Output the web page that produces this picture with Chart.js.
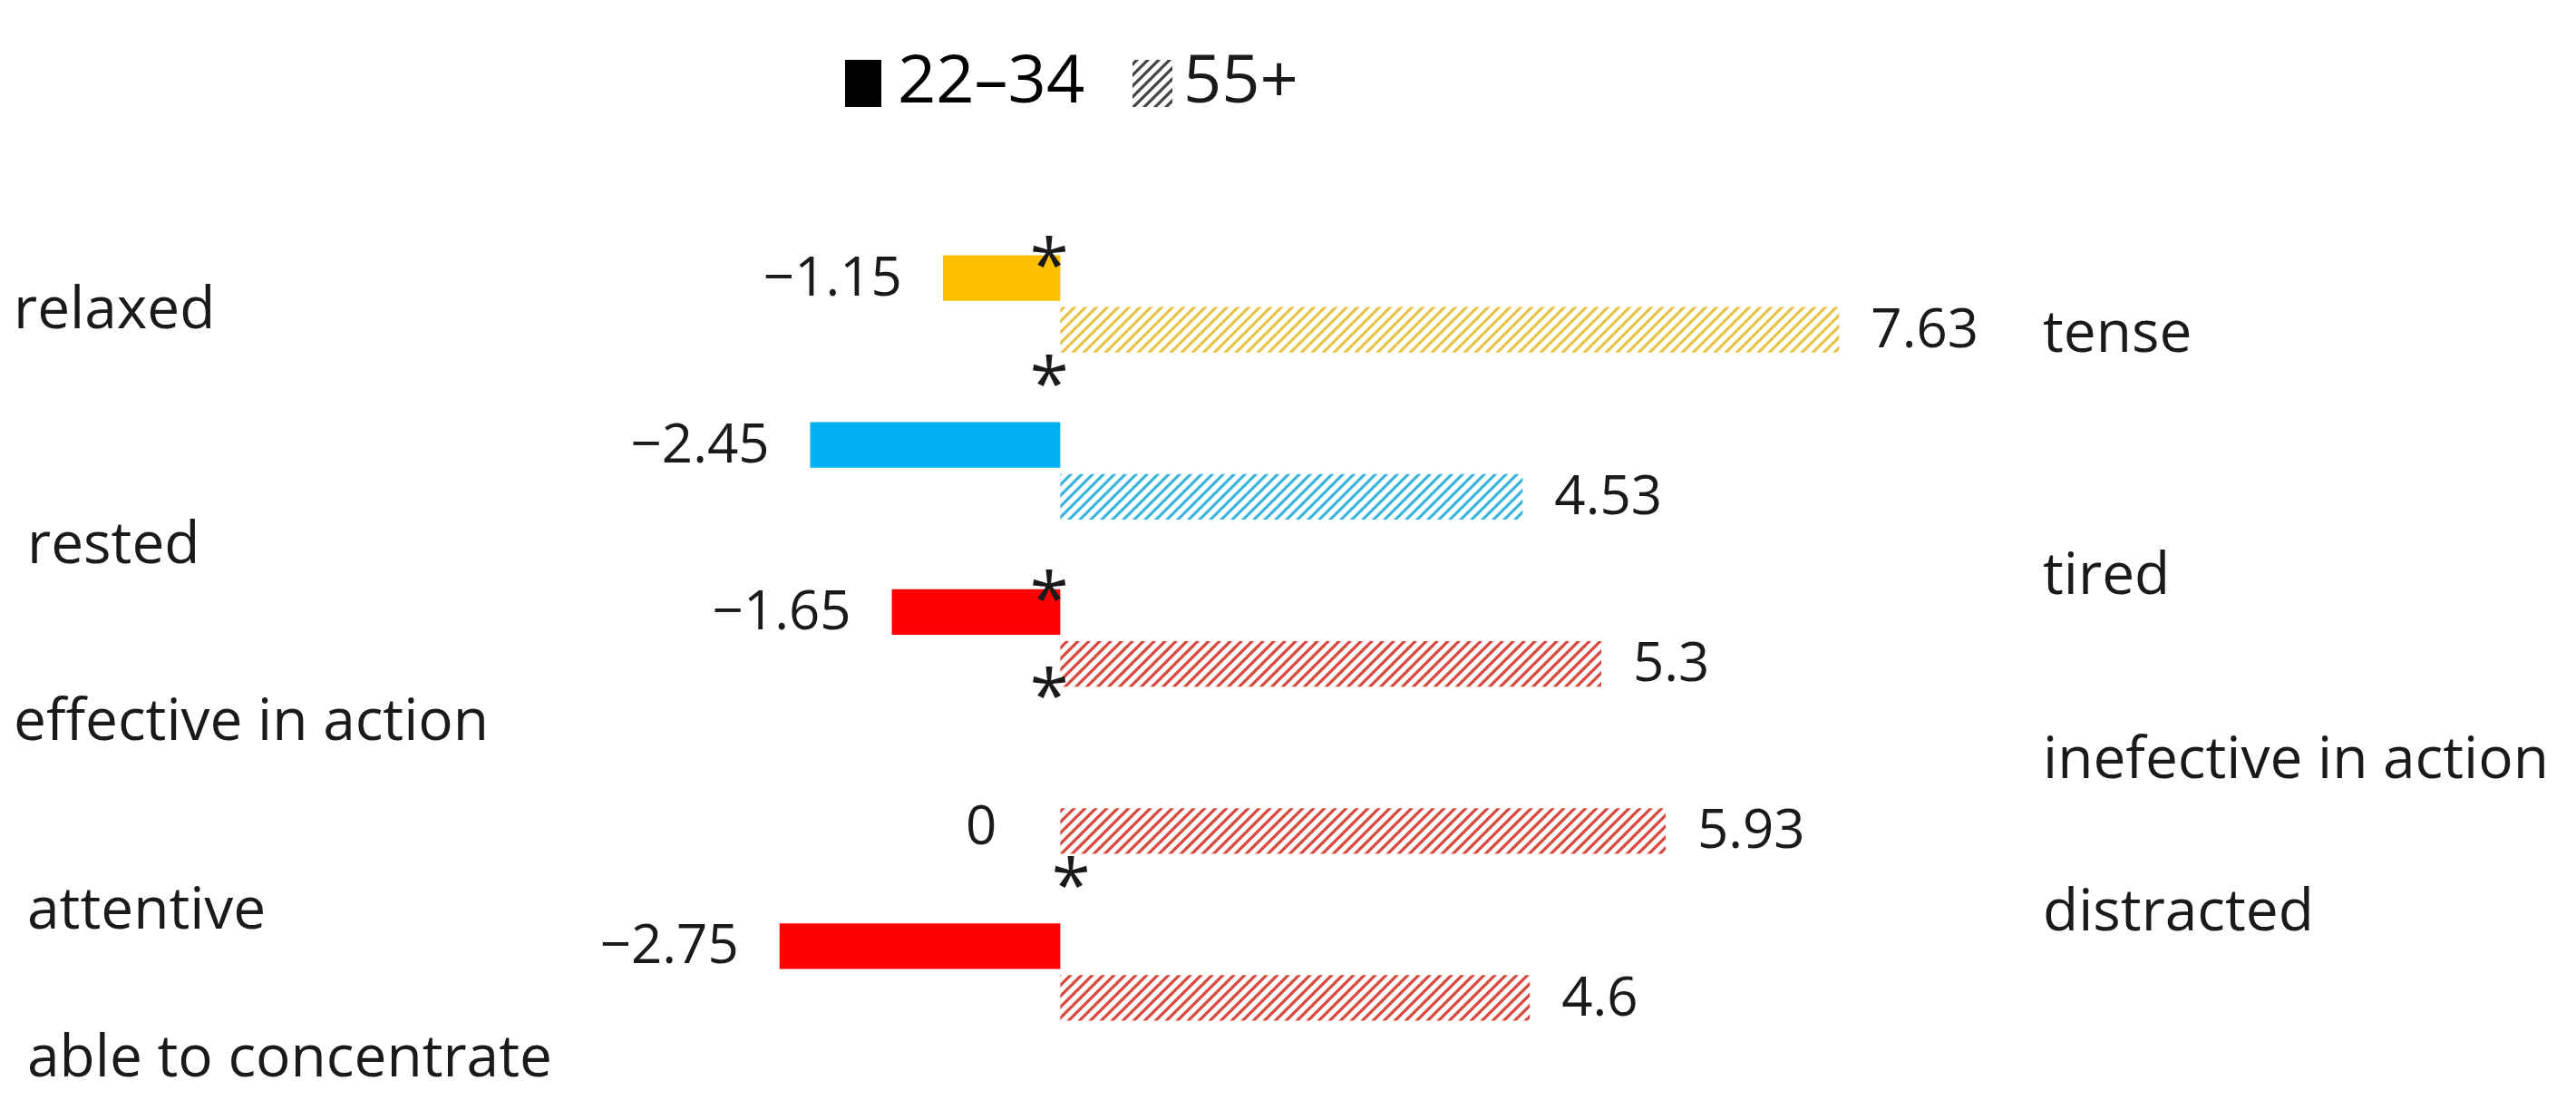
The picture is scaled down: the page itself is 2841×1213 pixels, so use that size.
<!DOCTYPE html>
<html><head><meta charset="utf-8">
<script src="https://cdn.jsdelivr.net/npm/chart.js@4/dist/chart.umd.min.js"></script>
<style>html,body{margin:0;padding:0;background:#fff;}#wrap{width:2841px;height:1213px;position:relative;}</style>
</head><body><div id="wrap"><canvas id="c" width="2841" height="1213"></canvas></div>
<script>
const categories = ["relaxed / tense","rested / tired","effective / inefective","attentive / distracted","concentrate"];
const young = [-1.15, -2.45, -1.65, 0, -2.75];
const old = [7.63, 4.53, 5.3, 5.93, 4.6];
const solidColors = ["#FFC000","#00B0F0","#FF0000","#FF0000","#FF0000"];
const hatchColors = ["#E8C34A","#3BB4DE","#D9473F","#D9473F","#D9473F"];
const seriesNames = ["22–34","55+"];
const leftLabels = ["relaxed","rested","effective in action","attentive","able to concentrate"];
const rightLabels = ["tense","tired","inefective in action","distracted"];
// significance marks: [datasetIndex, categoryIndex, side]
const stars = [[0,0,"top"],[1,0,"bottom"],[0,2,"top"],[1,2,"low"],[1,3,"bottom"]];

const leftPos = [[15,344],[30,603],[15,798],[30,1006],[30,1169]];
const rightPos = [[2253,370],[2253,637],[2253,840],[2253,1008]];
const FONT = '"Open Sans", sans-serif';

function hatch(color){
  const s=12, c=document.createElement('canvas'); c.width=s; c.height=s;
  const g=c.getContext('2d'); g.fillStyle='#fff'; g.fillRect(0,0,s,s);
  g.strokeStyle=color; g.lineWidth=3.2;
  g.beginPath();
  g.moveTo(-2,s+2); g.lineTo(s+2,-2);
  g.moveTo(-2+s,s+2); g.lineTo(s+2+s,-2);
  g.moveTo(-2-s,s+2); g.lineTo(s+2-s,-2);
  g.stroke();
  return document.getElementById('c').getContext('2d').createPattern(c,'repeat');
}

const textPlugin = {
  id:'texts',
  afterDraw(chart){
    const ctx=chart.ctx; ctx.save();
    ctx.fillStyle='#1a1a1a'; ctx.textBaseline='middle';
    ctx.font='64px '+FONT; ctx.textAlign='left';
    leftLabels.forEach((t,i)=>ctx.fillText(t,leftPos[i][0],leftPos[i][1]));
    rightLabels.forEach((t,i)=>ctx.fillText(t,rightPos[i][0],rightPos[i][1]));
    // value labels
    ctx.font='60px '+FONT;
    chart.data.datasets.forEach((ds,di)=>{
      chart.getDatasetMeta(di).data.forEach((bar,i)=>{
        const v=ds.data[i];
        const s=(v<0?'−':'')+Math.abs(v);
        if(v>0){ctx.textAlign='left'; ctx.fillText(s,bar.x+35,bar.y+2);}
        else if(v<0){ctx.textAlign='right'; ctx.fillText(s,bar.x-45,bar.y+2);}
        else {ctx.textAlign='right'; ctx.fillText(s,bar.x-70,bar.y+55);}
      });
    });
    // stars
    ctx.font='78px '+FONT; ctx.textAlign='center';
    const x0=chart.scales.x.getPixelForValue(0);
    stars.forEach(([di,i,side])=>{
      const bar=chart.getDatasetMeta(di).data[i];
      const h=bar.height;
      let y, x=x0-12;
      if(side==='top') y=bar.y-h/2-2;
      else if(side==='low') y=bar.y+h/2-2;
      else {y=bar.y+h/2+22; if(i===3) x=x0+12;}
      ctx.fillText('*',x,y+18);
    });
    // legend
    ctx.fillStyle='#000'; ctx.fillRect(932,66,40,52);
    ctx.font='74px '+FONT; ctx.textAlign='left';
    ctx.fillText(seriesNames[0],990,92);
    ctx.fillStyle=hatch('#444'); ctx.fillRect(1249,66,44,52);
    ctx.fillStyle='#1a1a1a'; ctx.fillText(seriesNames[1],1305,92);
    ctx.restore();
  }
};

new Chart(document.getElementById('c'),{
  type:'bar',
  data:{labels:categories,datasets:[
    {label:seriesNames[0],data:young,backgroundColor:solidColors,categoryPercentage:0.62,barPercentage:0.88},
    {label:seriesNames[1],data:old,backgroundColor:hatchColors.map(hatch),categoryPercentage:0.62,barPercentage:0.88}
  ]},
  options:{
    indexAxis:'y',responsive:false,animation:false,
    layout:{padding:{left:719,right:771,top:243,bottom:49}},
    scales:{x:{display:false,min:-4,max:8},y:{display:false}},
    plugins:{legend:{display:false},tooltip:{enabled:false}}
  },
  plugins:[textPlugin]
});
</script></body></html>
